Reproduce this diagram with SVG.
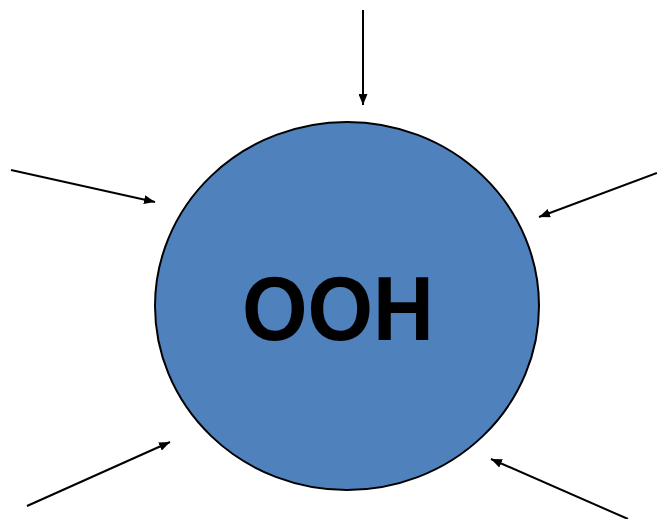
<svg xmlns="http://www.w3.org/2000/svg" width="657" height="519" viewBox="0 0 657 519">
<defs>
<marker id="ah" markerWidth="11" markerHeight="9" refX="11" refY="4.5" orient="auto" markerUnits="userSpaceOnUse">
<path d="M0,0 L11,4.5 L0,9 Z" fill="#000"/>
</marker>
<style>
.c{stroke:#000;stroke-width:2;fill:none;marker-end:url(#ah)}
</style>
</defs>
<rect width="657" height="519" fill="#fff"/>
<g id="ooh">
<ellipse cx="347" cy="306" rx="192" ry="184" fill="#4F81BD" stroke="#000" stroke-width="2"/>
<text x="338" y="340" font-family="Liberation Sans, Arial, sans-serif" font-weight="bold" font-size="90" text-anchor="middle" textLength="192" lengthAdjust="spacingAndGlyphs" fill="#000">OOH</text>
</g>
<g id="connectors">
<line class="c" x1="363" y1="10" x2="363" y2="105"/>
<line class="c" x1="11" y1="170" x2="155" y2="202"/>
<line class="c" x1="657" y1="173" x2="539" y2="217"/>
<line class="c" x1="27" y1="506" x2="170" y2="442"/>
<line class="c" x1="628" y1="519" x2="491" y2="459"/>
</g>
</svg>
